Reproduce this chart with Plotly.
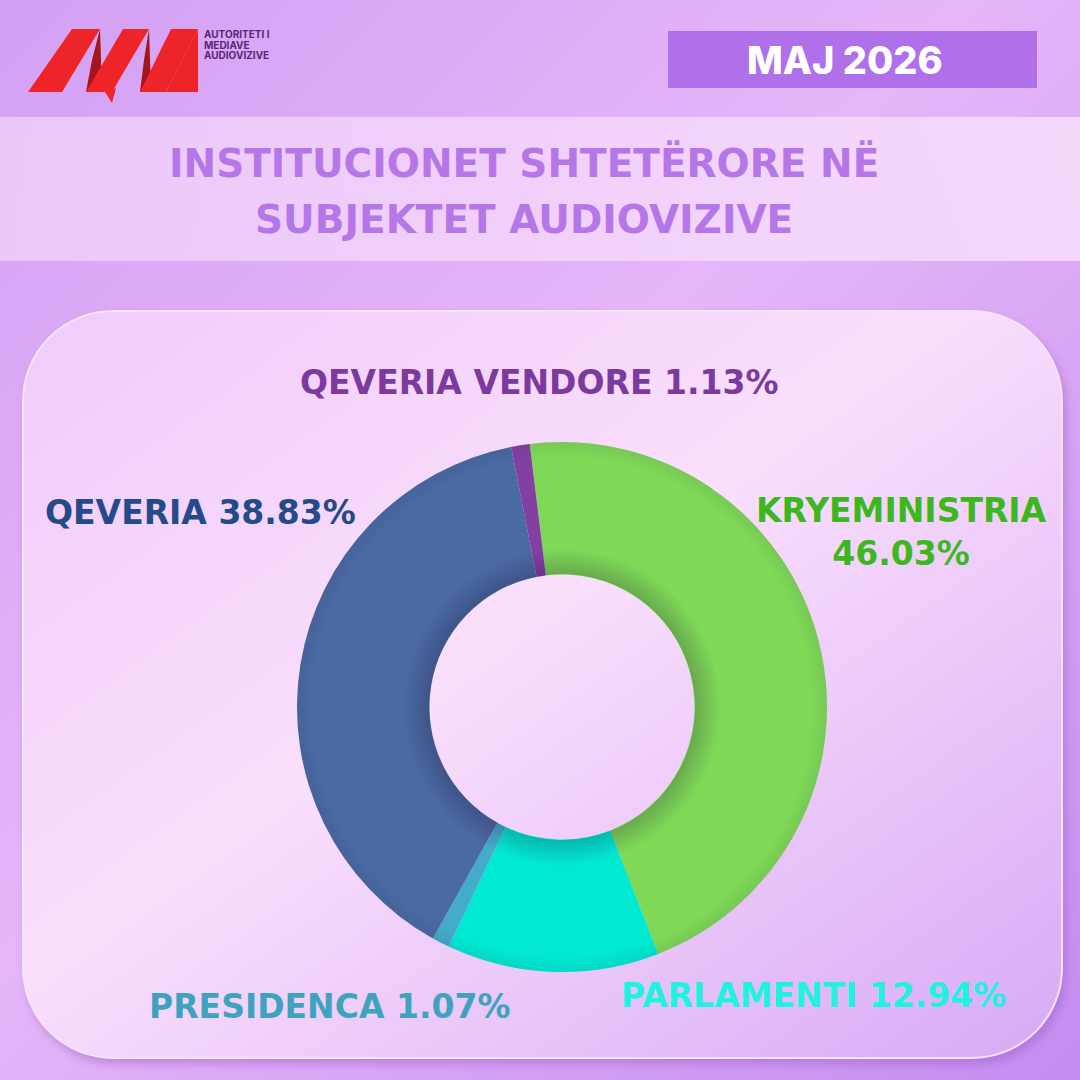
import base64

import plotly.graph_objects as go

# share of state-institution airtime, May 2026 (clockwise from top)
categories = ["KRYEMINISTRIA", "PARLAMENTI", "PRESIDENCA", "QEVERIA", "QEVERIA VENDORE"]
shares = [46.03, 12.94, 1.07, 38.83, 1.13]
slice_colors = ["#7fd957", "#02e9d2", "#43acc9", "#4a6aa3", "#8340a3"]
label_colors = ["#3cb81e", "#1ff3df", "#3fa3c0", "#244a8a", "#7a3a9e"]

period = "MAJ 2026"
title_lines = ["INSTITUCIONET SHTETËRORE NË", "SUBJEKTET AUDIOVIZIVE"]
logo_lines = ["AUTORITETI I", "MEDIAVE", "AUDIOVIZIVE"]

W = H = 1080
FONT = "Inter, 'Open Sans', sans-serif"
WIDE = "'DejaVu Sans', Inter, sans-serif"


def svg_uri(svg):
    return "data:image/svg+xml;base64," + base64.b64encode(svg.encode()).decode()


def poly(pts):
    return "M " + " L ".join(f"{x} {y}" for x, y in pts) + " Z"


# soft purple page, title strip and rounded panel (gradients need an svg backdrop)
BACKDROP = f"""<svg xmlns="http://www.w3.org/2000/svg" width="{W}" height="{H}">
<defs>
 <linearGradient id="pg" x1="0" y1="0" x2="1" y2="1">
  <stop offset="0" stop-color="#d3a0f4"/><stop offset="0.45" stop-color="#e6b6f8"/>
  <stop offset="1" stop-color="#c48cf0"/></linearGradient>
 <linearGradient id="bn" x1="0" y1="0" x2="1" y2="0">
  <stop offset="0" stop-color="#ecccfa"/><stop offset="1" stop-color="#f8dcfb"/></linearGradient>
 <linearGradient id="pn" x1="0" y1="0" x2="1" y2="1">
  <stop offset="0" stop-color="#f0cbfa"/><stop offset="0.45" stop-color="#fadffc"/>
  <stop offset="1" stop-color="#d7aaf5"/></linearGradient>
 <filter id="sh" x="-5%" y="-5%" width="110%" height="110%">
  <feGaussianBlur stdDeviation="5"/></filter>
</defs>
<rect width="{W}" height="{H}" fill="url(#pg)"/>
<rect y="117" width="{W}" height="144" fill="url(#bn)" opacity="0.9"/>
<rect x="26" y="316" width="1040" height="748" rx="90" fill="#9a62c8" opacity="0.5" filter="url(#sh)"/>
<rect x="23" y="311" width="1039" height="747" rx="90" fill="url(#pn)" stroke="#f6e2fc" stroke-width="2"/>
</svg>"""

# faint inner/outer shading on the ring
RING_SHADE = """<svg xmlns="http://www.w3.org/2000/svg" width="530" height="530">
<defs><radialGradient id="rg" cx="0.5" cy="0.5" r="0.5">
 <stop offset="0.5" stop-color="#000" stop-opacity="0"/>
 <stop offset="0.503" stop-color="#1a0a30" stop-opacity="0.22"/>
 <stop offset="0.6" stop-color="#1a0a30" stop-opacity="0"/>
 <stop offset="0.94" stop-color="#1a0a30" stop-opacity="0"/>
 <stop offset="1" stop-color="#1a0a30" stop-opacity="0.08"/>
</radialGradient></defs>
<circle cx="265" cy="265" r="265" fill="url(#rg)"/>
</svg>"""

fig = go.Figure()
# invisible trace so the pixel-sized x/y axes exist for shapes and labels
fig.add_trace(go.Scatter(x=[0, W], y=[0, H], mode="markers",
                         marker=dict(opacity=0), hoverinfo="skip", showlegend=False))
fig.add_trace(go.Pie(
    labels=categories, values=shares, sort=False, direction="clockwise",
    rotation=-7, hole=0.5, textinfo="none",
    marker=dict(colors=slice_colors, line=dict(width=0)),
    domain=dict(x=[297 / W, 827 / W], y=[1 - 972 / H, 1 - 442 / H]),
    showlegend=False,
    hovertemplate="%{label}: %{value:.2f}%<extra></extra>",
))

images = [
    dict(source=svg_uri(BACKDROP), xref="x", yref="y", x=0, y=0, sizex=W, sizey=H,
         xanchor="left", yanchor="top", sizing="stretch", layer="below"),
    dict(source=svg_uri(RING_SHADE), xref="x", yref="y", x=297, y=442, sizex=530,
         sizey=530, xanchor="left", yanchor="top", sizing="stretch", layer="above"),
]

shapes = [
    # date box
    dict(type="rect", x0=668, x1=1037, y0=31, y1=88, fillcolor="#b070ea",
         line=dict(width=0)),
]

# AMA logo, drawn as a few red strokes
red, dark = "#ee2528", "#a5151c"
logo_polys = [
    ([(28, 92), (72, 29), (100, 29), (62, 92)], red),
    ([(100, 29), (102, 92), (86, 92), (92, 60)], dark),
    ([(86, 92), (123, 29), (149, 29), (112, 92)], red),
    ([(105, 92), (112, 103), (116, 88)], red),
    ([(149, 29), (151, 92), (140, 92), (144, 60)], dark),
    ([(140, 92), (171, 29), (198, 29), (166, 92)], red),
    ([(166, 92), (198, 29), (198, 92)], red),
]
for pts, col in logo_polys:
    shapes.append(dict(type="path", path=poly(pts), fillcolor=col, line=dict(width=0)))

annotations = []
for i, line in enumerate(logo_lines):
    annotations.append(dict(x=202, y=34 + i * 10.5, text=f"<b>{line}</b>",
                            xanchor="left", yanchor="middle", showarrow=False,
                            font=dict(family=FONT, size=10, color="#5a2678")))

annotations.append(dict(x=845, y=60, text=period, xanchor="center", yanchor="middle",
                        showarrow=False,
                        font=dict(family=FONT, size=38, color="white", weight=800)))

for i, line in enumerate(title_lines):
    annotations.append(dict(x=524, y=163 + i * 56, text=f"<b>{line}</b>",
                            xanchor="center", yanchor="middle", showarrow=False,
                            font=dict(family=WIDE, size=39, color="#b577e8")))

# slice labels: (x, y, anchor, text)
lab = {c: f"{c} {v:.2f}%" for c, v in zip(categories, shares)}
label_pos = [
    (901, 532, "center", f"{categories[0]}<br>{shares[0]:.2f}%"),
    (1008, 995, "right", lab[categories[1]]),
    (512, 1006, "right", lab[categories[2]]),
    (358, 512, "right", lab[categories[3]]),
    (539, 382, "center", lab[categories[4]]),
]
for (x, y, anc, txt), col in zip(label_pos, label_colors):
    annotations.append(dict(x=x, y=y, text=f"<b>{txt}</b>", xanchor=anc,
                            yanchor="middle", showarrow=False, align="center",
                            font=dict(family=WIDE, size=33, color=col)))

fig.update_layout(
    width=W, height=H,
    margin=dict(l=0, r=0, t=0, b=0),
    paper_bgcolor="#d9a7f5",
    plot_bgcolor="rgba(0,0,0,0)",
    xaxis=dict(range=[0, W], visible=False, fixedrange=True),
    yaxis=dict(range=[H, 0], visible=False, fixedrange=True),
    images=images,
    shapes=shapes,
    annotations=annotations,
)

fig.write_html("out.html", config={"displayModeBar": False},
               post_script="document.body.style.margin='0';")
